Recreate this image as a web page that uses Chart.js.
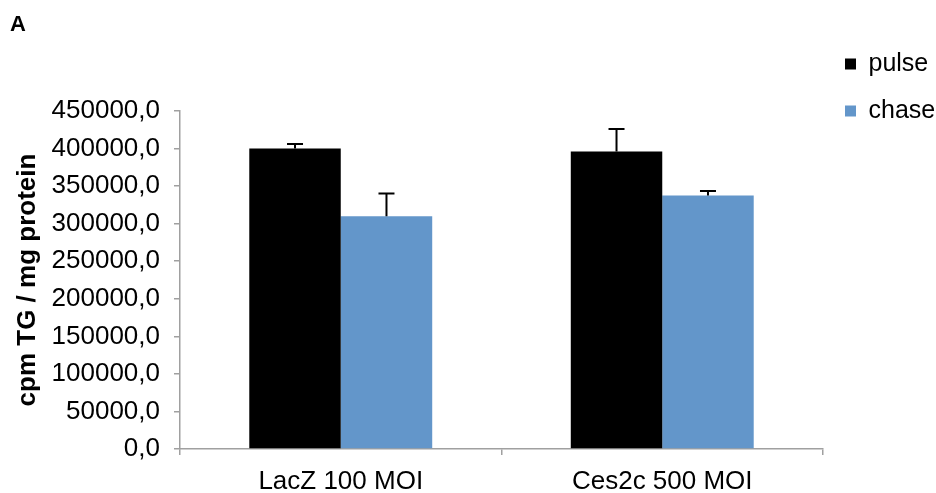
<!DOCTYPE html>
<html>
<head>
<meta charset="utf-8">
<script src="https://cdn.jsdelivr.net/npm/chart.js@4.4.1/dist/chart.umd.min.js"></script>
<style>
  html, body { margin: 0; padding: 0; background: #fff; }
  #wrap { width: 936px; height: 493px; }
</style>
</head>
<body>
<div id="wrap"><canvas id="tgChart" width="936" height="493"></canvas></div>
<script>
"use strict";

// Data
var categories = ["LacZ 100 MOI", "Ces2c 500 MOI"];
var seriesNames = ["pulse", "chase"];
var pulseValues = [400000, 396000];
var chaseValues = [310000, 337500];
var pulseErrors = [6000, 30000];
var chaseErrors = [30000, 6000];

var axisColor = "#a0a0a0";
var fontFamily = "'Liberation Sans', Arial, Helvetica, sans-serif";

// Upper error bars with a cap, drawn from the y scale
var errorBarPlugin = {
    id: "errorBars",
    afterDatasetsDraw: function(chart) {
        var ctx = chart.ctx;
        var yScale = chart.scales.y;

        ctx.save();
        ctx.strokeStyle = "#000";
        ctx.lineWidth = 2;

        chart.data.datasets.forEach(function(ds, i) {
            var meta = chart.getDatasetMeta(i);
            meta.data.forEach(function(bar, j) {
                var top = yScale.getPixelForValue(ds.data[j] + ds.errors[j]);
                ctx.beginPath();
                ctx.moveTo(bar.x, bar.y);
                ctx.lineTo(bar.x, top);
                ctx.moveTo(bar.x - 8, top);
                ctx.lineTo(bar.x + 8, top);
                ctx.stroke();
            });
        });

        ctx.restore();
    }
};

window.onload = function() {

    var config = {
        type: "bar",
        data: {
            labels: categories,
            datasets: [
                { label: seriesNames[0], data: pulseValues, errors: pulseErrors, backgroundColor: "#000000" },
                { label: seriesNames[1], data: chaseValues, errors: chaseErrors, backgroundColor: "#6396ca" }
            ]
        },
        options: {
            responsive: false,
            animation: false,
            layout: {
                padding: { left: 10, top: 0, right: 0, bottom: 0 }
            },
            datasets: {
                bar: {
                    categoryPercentage: 0.569,
                    barPercentage: 1.0
                }
            },
            plugins: {
                tooltip: { enabled: false },
                title: {
                    display: true,
                    text: "A",
                    align: "start",
                    color: "#000",
                    font: { family: fontFamily, size: 22, weight: "bold" },
                    padding: { top: 11.5, bottom: 73.1 }
                },
                legend: {
                    position: "right",
                    align: "start",
                    maxWidth: 113,
                    title: {
                        display: true,
                        text: "",
                        font: { size: 10 },
                        padding: { top: 17.5, bottom: 0 }
                    },
                    labels: {
                        color: "#000",
                        boxWidth: 11,
                        boxHeight: 11,
                        padding: 22,
                        font: { family: fontFamily, size: 25 }
                    }
                }
            },
            scales: {
                x: {
                    grid: {
                        drawOnChartArea: false,
                        drawTicks: true,
                        tickLength: 6,
                        color: axisColor,
                        lineWidth: 1.5
                    },
                    border: { color: axisColor, width: 1.5 },
                    ticks: {
                        color: "#000",
                        padding: 11,
                        maxRotation: 0,
                        font: { family: fontFamily, size: 26 }
                    },
                    afterFit: function(scale) {
                        scale.height = 44;
                    }
                },
                y: {
                    min: 0,
                    max: 450000,
                    grid: {
                        drawOnChartArea: false,
                        drawTicks: true,
                        tickLength: 6,
                        color: axisColor,
                        lineWidth: 1.5
                    },
                    border: { color: axisColor, width: 1.5 },
                    ticks: {
                        stepSize: 50000,
                        autoSkip: false,
                        color: "#000",
                        padding: 14,
                        font: { family: fontFamily, size: 26 },
                        callback: function(value) {
                            return value.toFixed(1).replace(".", ",");
                        }
                    },
                    title: {
                        display: true,
                        text: "cpm TG / mg protein",
                        color: "#000",
                        font: { family: fontFamily, size: 26, weight: "bold" },
                        padding: { top: 2, bottom: 0 }
                    },
                    afterFit: function(scale) {
                        scale.width = 170;
                    }
                }
            }
        },
        plugins: [errorBarPlugin]
    };

    var ctx = document.getElementById("tgChart").getContext("2d");
    new Chart(ctx, config);
};
</script>
</body>
</html>
